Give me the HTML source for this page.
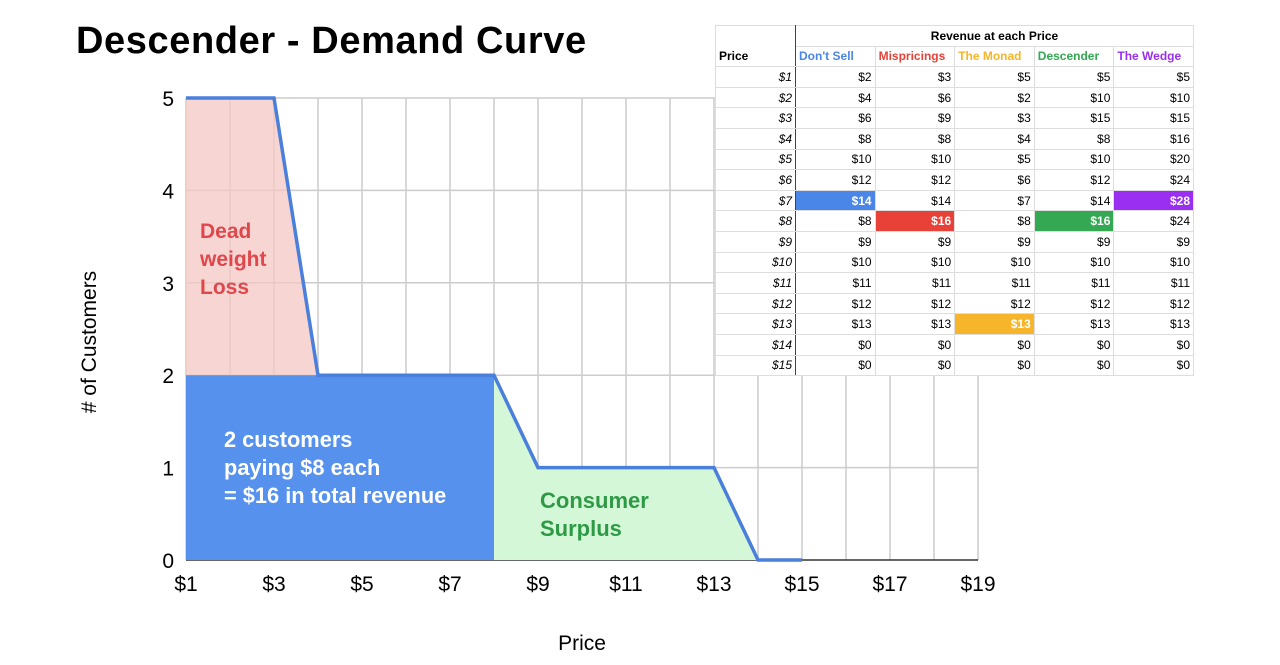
<!DOCTYPE html>
<html><head><meta charset="utf-8"><style>
body{margin:0;width:1280px;height:665px;background:#fff;font-family:"Liberation Sans",Arial,sans-serif;overflow:hidden;position:relative}
h1{position:absolute;left:76px;top:20px;margin:0;font-size:38px;font-weight:bold;color:#000;letter-spacing:0.6px}
svg{position:absolute;left:0;top:0}
table{position:absolute;left:715px;top:25px;border-collapse:collapse;font-size:12px;background:#fff;table-layout:fixed;width:478px}
td{border:1px solid #ddd;height:20.6px;padding:0 3px;text-align:right;box-sizing:border-box;overflow:hidden;white-space:nowrap}
td.p{font-style:italic;border-right:1px solid #444}
tr.h td{font-weight:bold;text-align:left}
</style></head><body>
<h1>Descender - Demand Curve</h1>
<svg id="chart" width="1280" height="665"></svg>
<table id="tbl" style="border:1px solid #444"><colgroup><col style="width:80px"><col style="width:79.6px"><col style="width:79.6px"><col style="width:79.6px"><col style="width:79.6px"><col style="width:79.6px"></colgroup><tbody id="tb"></tbody></table>
<script>
const prices=[1,3,4,8,9,13,14,15];
const customers=[5,5,2,2,1,1,0,0];
const xTicks=[1,3,5,7,9,11,13,15,17,19];
const yTicks=[0,1,2,3,4,5];
const tblPrices=[1,2,3,4,5,6,7,8,9,10,11,12,13,14,15];
const colNames=["Don't Sell","Mispricings","The Monad","Descender","The Wedge"];
const colColors=["#4a86e8","#e84138","#f6b52b","#34a853","#9a2ff2"];
const dontSell=[2,4,6,8,10,12,14,8,9,10,11,12,13,0,0];
const mispricings=[3,6,9,8,10,12,14,16,9,10,11,12,13,0,0];
const monad=[5,2,3,4,5,6,7,8,9,10,11,12,13,0,0];
const descender=[5,10,15,8,10,12,14,16,9,10,11,12,13,0,0];
const wedge=[5,10,15,16,20,24,28,24,9,10,11,12,13,0,0];
const highlights=[6,7,12,7,6];
const X=v=>186+(v-1)*44, Y=v=>560-v*92.4;
const svg=document.getElementById('chart'),NS='http://www.w3.org/2000/svg';
function el(t,a,p){const e=document.createElementNS(NS,t);for(const k in a)e.setAttribute(k,a[k]);(p||svg).appendChild(e);return e;}
for(let v=1;v<=19;v++){const g=el('line',{x1:X(v),x2:X(v),y1:Y(5),y2:Y(0),stroke:'#ccc','stroke-width':1.5});

}
yTicks.forEach(v=>{const g=el('line',{x1:X(1),x2:X(19),y1:Y(v),y2:Y(v),stroke:v?'#ccc':'#333','stroke-width':1.5});


const t=el('text',{x:174,y:Y(v)+8,'font-size':21,'text-anchor':'end'});t.textContent=v;

});
xTicks.forEach(v=>{const t=el('text',{x:X(v),y:591,'font-size':21,'text-anchor':'middle'});t.textContent='$'+v;

});
const dw=el('polygon',{points:[[X(1),Y(5)],[X(3),Y(5)],[X(4),Y(2)],[X(1),Y(2)]].join(' '),fill:'#f4c7c3',opacity:0.75});


const cs=el('polygon',{points:[[X(8),Y(2)],[X(9),Y(1)],[X(13),Y(1)],[X(14),Y(0)],[X(8),Y(0)]].join(' '),fill:'#d4f7d8'});


const rv=el('rect',{x:X(1),y:Y(2),width:X(8)-X(1),height:Y(0)-Y(2),fill:'#5691ed'});


const ln=el('polyline',{points:prices.map((p,i)=>X(p)+','+Y(customers[i])).join(' '),fill:'none',stroke:'#4a7fdc','stroke-width':3.5});


function txt(lines,x,y,c,size,name){lines.forEach((s,i)=>{const t=el('text',{x:x,y:y+i*28,'font-size':size,'font-weight':'bold',fill:c});t.textContent=s;

});}
txt(['Dead','weight','Loss'],200,238,'#e0474c',21,'deadweight-label');
txt(['2 customers','paying $8 each','= $16 in total revenue'],224,447,'#fff',21.8,'revenue-label');
txt(['Consumer','Surplus'],540,508,'#2e9a45',22,'surplus-label');
const xt=el('text',{x:582,y:650,'font-size':21,'text-anchor':'middle'});xt.textContent='Price';


const yt=el('text',{x:96,y:342,'font-size':21,'text-anchor':'middle',transform:'rotate(-90 96 342)'});yt.textContent='# of Customers';


const tb=document.getElementById('tb');
let h='<tr class="h"><td class="p" style="border-bottom:none"></td><td colspan="5" style="text-align:center">Revenue at each Price</td></tr>';
h+='<tr class="h" style="border-bottom:1px solid #444"><td class="p" style="font-style:normal;border-top:none">Price</td>'+colNames.map((n,i)=>`<td style="color:${colColors[i]}">${n}</td>`).join('')+'</tr>';
const cols=[dontSell,mispricings,monad,descender,wedge];
tblPrices.forEach((p,r)=>{h+=`<tr><td class="p">$${p}</td>`+cols.map((c,i)=>highlights[i]===r?`<td style="background:${colColors[i]};color:#fff;font-weight:bold">$${c[r]}</td>`:`<td>$${c[r]}</td>`).join('')+'</tr>';});
tb.innerHTML=h;
</script>
</body></html>
